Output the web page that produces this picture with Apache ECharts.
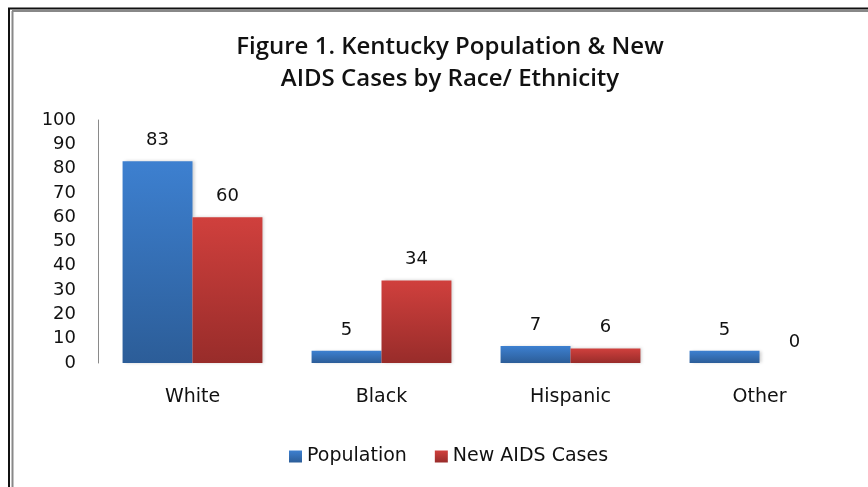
<!DOCTYPE html>
<html>
<head>
<meta charset="utf-8">
<script src="https://cdn.jsdelivr.net/npm/echarts@6/dist/echarts.min.js"></script>
<style>
  html, body { margin: 0; padding: 0; background: #fff; }
  #main { width: 868px; height: 487px; }
</style>
</head>
<body>
<div id="main"></div>
<script>
// data
const categories = ['White', 'Black', 'Hispanic', 'Other'];
const population = [83, 5, 7, 5];
const newAids = [60, 34, 6, 0];
const yTicks = [0, 100, 10]; // min, max, step

let myChart = echarts.init(document.getElementById('main'));

const labelFont = {
    fontFamily: 'DejaVu Sans',
    fontSize: 18,
    color: '#111'
};

const blueFill = new echarts.graphic.LinearGradient(0, 0, 0, 1, [
    { offset: 0, color: '#3d80d0' },
    { offset: 1, color: '#2c5d98' }
]);
const redFill = new echarts.graphic.LinearGradient(0, 0, 0, 1, [
    { offset: 0, color: '#d0403d' },
    { offset: 1, color: '#982c2a' }
]);

const barShadow = {
    shadowColor: 'rgba(0, 0, 0, 0.18)',
    shadowBlur: 3,
    shadowOffsetX: 2
};

option = {
    backgroundColor: '#fff',
    title: {
        text: 'Figure 1. Kentucky Population & New\nAIDS Cases by Race/ Ethnicity',
        left: 445,
        top: 26,
        textAlign: 'center',
        textStyle: {
            fontFamily: 'Open Sans',
            fontWeight: 600,
            fontSize: 24,
            lineHeight: 32,
            color: '#111'
        }
    },
    legend: {
        bottom: 16,
        left: 284,
        itemWidth: 13,
        itemHeight: 12,
        itemGap: 28,
        icon: 'rect',
        textStyle: Object.assign({}, labelFont, { fontSize: 19 }),
        data: ['Population', 'New AIDS Cases']
    },
    grid: {
        left: 98,
        right: 14,
        top: 120,
        bottom: 124
    },
    xAxis: {
        type: 'category',
        data: categories,
        axisLine: { show: false },
        axisTick: { show: false },
        axisLabel: Object.assign({ margin: 25 }, labelFont, { fontSize: 19 })
    },
    yAxis: {
        type: 'value',
        min: yTicks[0],
        max: yTicks[1],
        interval: yTicks[2],
        axisLine: { show: true, lineStyle: { color: '#8a8a8a', width: 1 } },
        axisTick: { show: false },
        splitLine: { show: false },
        axisLabel: Object.assign({ margin: 22 }, labelFont)
    },
    series: [
        {
            name: 'Population',
            type: 'bar',
            data: population,
            barGap: '0%',
            barCategoryGap: '26%',
            itemStyle: Object.assign({ color: blueFill }, barShadow),
            label: Object.assign({ show: true, position: 'top', distance: 12 }, labelFont)
        },
        {
            name: 'New AIDS Cases',
            type: 'bar',
            data: newAids,
            itemStyle: Object.assign({ color: redFill }, barShadow),
            label: Object.assign({ show: true, position: 'top', distance: 12 }, labelFont)
        }
    ],
    graphic: [
        // double frame on left and top edges
        { type: 'line', shape: { x1: 9, y1: 8, x2: 9, y2: 487 }, style: { stroke: '#111', lineWidth: 2 } },
        { type: 'line', shape: { x1: 12.5, y1: 11, x2: 12.5, y2: 487 }, style: { stroke: '#888', lineWidth: 2 } },
        { type: 'line', shape: { x1: 8, y1: 8.5, x2: 868, y2: 8.5 }, style: { stroke: '#111', lineWidth: 2 } },
        { type: 'line', shape: { x1: 12, y1: 11, x2: 868, y2: 11 }, style: { stroke: '#888', lineWidth: 2 } }
    ]
};

myChart.setOption(option);
</script>
</body>
</html>
